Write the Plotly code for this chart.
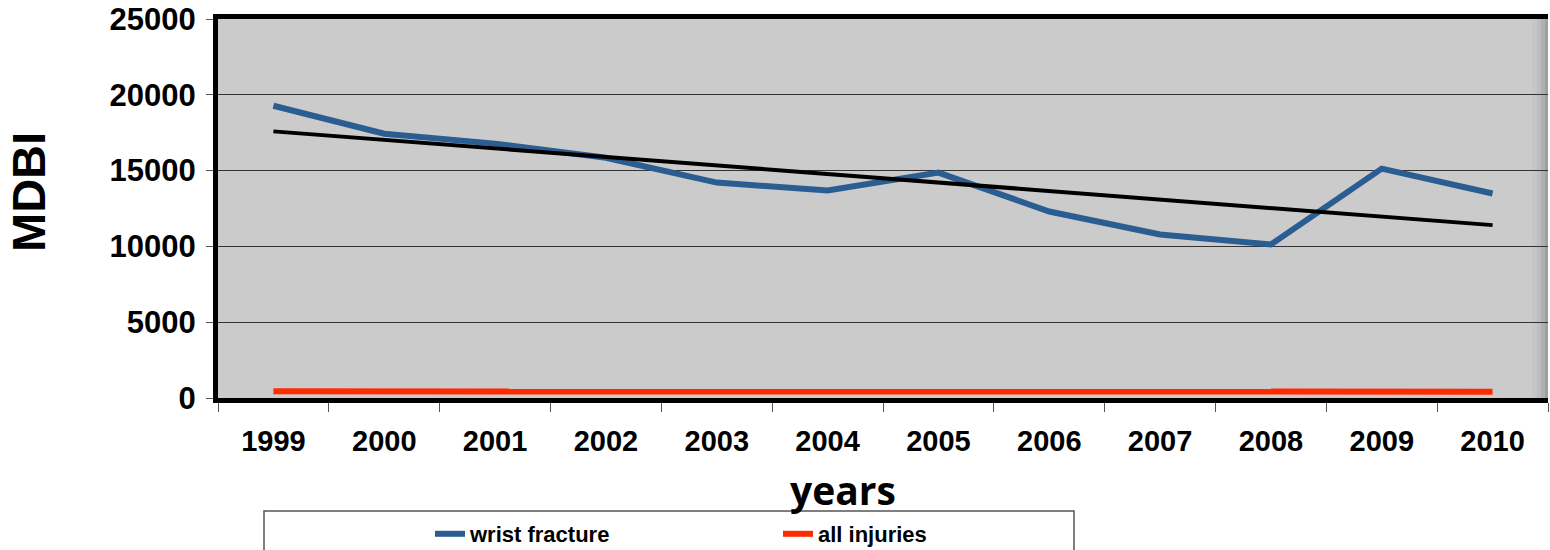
import numpy as np
import plotly.graph_objects as go

years = ["1999", "2000", "2001", "2002", "2003", "2004", "2005", "2006", "2007", "2008", "2009", "2010"]
wrist_fracture = [19280, 17430, 16780, 15850, 14210, 13690, 14870, 12300, 10790, 10130, 15130, 13490]
all_injuries = [440, 430, 430, 430, 430, 430, 430, 420, 400, 410, 420, 420]
y_ticks = [0, 5000, 10000, 15000, 20000, 25000]

# linear trend of wrist fracture (as in the spreadsheet trendline)
idx = np.arange(len(years))
slope, intercept = np.polyfit(idx, np.array(wrist_fracture, dtype=float), 1)
trend = list(slope * idx + intercept)

BLUE = "#2A5D92"
RED = "#FF2A00"
FONT = "Liberation Sans, Arial, sans-serif"

fig = go.Figure()
fig.add_trace(go.Scatter(x=years, y=wrist_fracture, mode="lines", name="wrist fracture",
                         line=dict(color=BLUE, width=6)))
fig.add_trace(go.Scatter(x=years, y=all_injuries, mode="lines", name="all injuries",
                         line=dict(color=RED, width=6)))
fig.add_trace(go.Scatter(x=years, y=trend, mode="lines", name="trend", showlegend=False,
                         line=dict(color="black", width=4)))

L, R, T, B = 218, 2, 19, 152
PW, PH = 1550 - L - R, 550 - T - B

def px(xp):
    return (xp - L) / PW

def py(yp):
    return (550 - B - yp) / PH

# soft shading along the right edge of the plot area
shade = []
for x0, col in [(1532, "#C6C6C6"), (1537, "#BDBDBD"), (1541, "#B0B0B0"), (1545, "#A0A0A0")]:
    shade.append(dict(type="rect", xref="paper", yref="paper", layer="below",
                      x0=px(x0), x1=1, y0=0, y1=1, line=dict(width=0), fillcolor=col))

fig.update_layout(
    width=1550, height=550,
    margin=dict(l=L, r=R, t=T, b=B, autoexpand=False),
    paper_bgcolor="white",
    plot_bgcolor="#CBCBCB",
    font=dict(family=FONT, color="black"),
    showlegend=True,
    legend=dict(orientation="h", x=px(430), xanchor="left",
                y=py(513), yanchor="top",
                font=dict(family=FONT, size=22, color="black", weight="bold"),
                bgcolor="rgba(0,0,0,0)", borderwidth=0,
                itemwidth=30, entrywidth=303, entrywidthmode="pixels",
                tracegroupgap=0),
    xaxis=dict(type="category", categoryorder="array", categoryarray=years,
               range=[-0.5, len(years) - 0.5],
               showline=True, linecolor="black", linewidth=5, mirror=True,
               ticks="outside", tickson="boundaries", ticklen=9, tickwidth=1, tickcolor="#555",
               ticklabelstandoff=13,
               tickfont=dict(family=FONT, size=29, color="black", weight="bold"),
               showgrid=False, zeroline=False),
    yaxis=dict(range=[0, 25000], tickvals=y_ticks, ticktext=[str(v) for v in y_ticks],
               showline=True, linecolor="black", linewidth=5, mirror=False,
               ticks="outside", ticklen=7, tickwidth=1, tickcolor="#555",
               ticklabelstandoff=4,
               tickfont=dict(family=FONT, size=31, color="black", weight="bold"),
               showgrid=True, gridcolor="#333333", gridwidth=1, zeroline=False),
    annotations=[
        dict(text="MDBI", textangle=-90, xref="paper", yref="paper",
             x=px(28), y=py(192), xanchor="center", yanchor="middle",
             showarrow=False, font=dict(family=FONT, size=47, color="black", weight="bold")),
        dict(text="years", xref="paper", yref="paper",
             x=px(843), y=py(489), xanchor="center", yanchor="middle",
             showarrow=False, font=dict(family="Open Sans, sans-serif", size=39, color="black", weight="bold")),
    ],
    shapes=[
        # legend frame
        dict(type="rect", xref="paper", yref="paper", layer="above",
             x0=px(264), x1=px(1074), y0=py(511), y1=py(570),
             line=dict(color="#555", width=1.5), fillcolor="rgba(0,0,0,0)"),
    ] + shade,
)

fig.write_html("out.html", config={"displayModeBar": False},
               post_script="document.body.style.margin='0';document.body.style.overflow='hidden';")
